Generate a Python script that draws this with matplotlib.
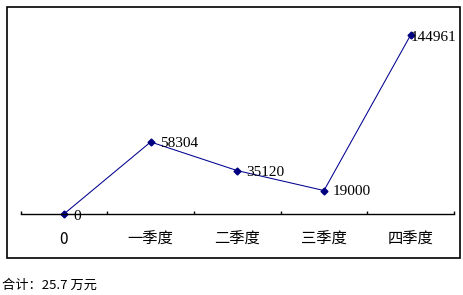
import matplotlib
matplotlib.use("Agg")
import matplotlib.pyplot as plt
from matplotlib.patches import Rectangle

categories = ["0", "一季度", "二季度", "三季度", "四季度"]
values = [0, 58304, 35120, 19000, 144961]
value_labels = ["0", "58304", "35120", "19000", "144961"]
footer = "合计：25.7 万元"

plt.rcParams['font.family'] = ['Noto Sans CJK SC', 'DejaVu Sans']

W, H = 464, 295
fig = plt.figure(figsize=(W / 100, H / 100), dpi=100)
fig.patch.set_facecolor("white")

# outer border
fig.patches.append(Rectangle((7 / W, 1 - 258 / H), (460 - 7) / W, (258 - 7) / H,
                             transform=fig.transFigure, fill=False,
                             edgecolor="black", linewidth=1.2))

x0, x1 = 20.6, 454
ybot, ytop = 214, 20
ax = fig.add_axes([x0 / W, 1 - ybot / H, (x1 - x0) / W, (ybot - ytop) / H])
ax.patch.set_alpha(0)
xs = list(range(len(categories)))
ax.plot(xs, values, color="#000090", linewidth=0.75, marker="D", markersize=3.5,
        markerfacecolor="#000080", markeredgecolor="#000080", clip_on=False)
ax.set_xlim(-0.5, len(categories) - 0.5)
ax.set_ylim(0, (ybot - ytop) / 0.001235)

for s in ["top", "right", "left"]:
    ax.spines[s].set_visible(False)
ax.spines["bottom"].set_linewidth(1.0)
ax.set_yticks([])
ax.set_xticks(xs)
ax.set_xticklabels(categories, fontsize=11, family=['Noto Sans CJK SC', 'DejaVu Sans'])
ax.tick_params(axis="x", which="major", length=0, pad=12)
ax.set_xticks([i - 0.5 for i in range(len(categories) + 1)], minor=True)
ax.tick_params(axis="x", which="minor", direction="in", length=2.5, width=1.0)

offsets = [(9, -3), (9, -2), (9, -2), (9, -1), (0, -3)]
for x, v, lab, off in zip(xs, values, value_labels, offsets):
    ax.annotate(lab, (x, v), xytext=off, textcoords="offset pixels",
                ha="left", va="center", fontsize=11, family="Liberation Serif",
                annotation_clip=False)

fig.text(2 / W, 1 - 285 / H, footer, fontsize=9.5, ha="left", va="center")

fig.savefig("out.png", dpi=100, facecolor="white")
